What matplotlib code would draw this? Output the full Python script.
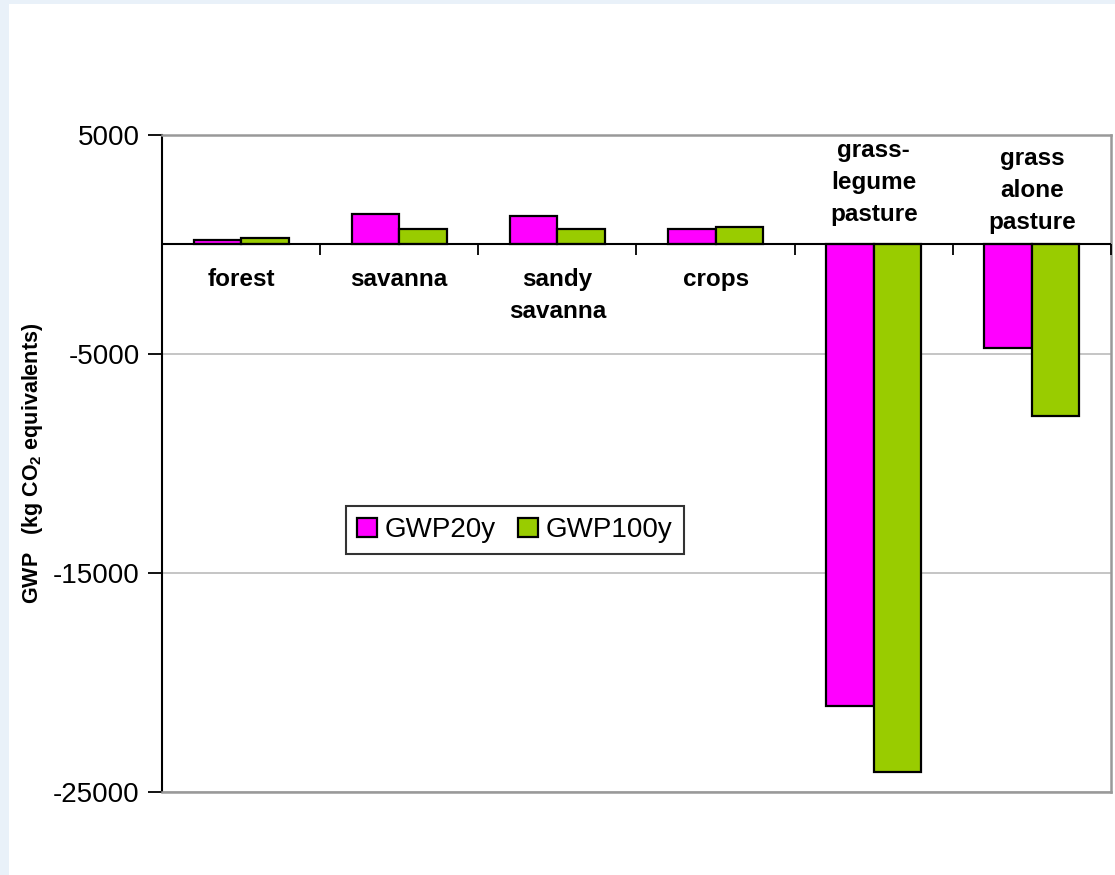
import matplotlib
matplotlib.use("Agg")
import matplotlib.pyplot as plt
from matplotlib.patches import Rectangle
import matplotlib.transforms as mtransforms
import numpy as np

# Data
categories = ["forest", "savanna", "sandy\nsavanna", "crops",
              "grass-\nlegume\npasture", "grass\nalone\npasture"]
gwp20 = [200, 1400, 1300, 700, -21100, -4750]
gwp100 = [300, 700, 700, 800, -24100, -7850]
series_names = ["GWP20y", "GWP100y"]
yticks = [5000, -5000, -15000, -25000]

plt.rcParams["font.family"] = ["Liberation Sans", "DejaVu Sans"]
plt.rcParams["mathtext.fontset"] = "custom"
plt.rcParams["mathtext.rm"] = "Liberation Sans"
plt.rcParams["mathtext.bf"] = "Liberation Sans:bold"

W, H = 1115, 875
fig = plt.figure(figsize=(W / 100, H / 100), dpi=100)
fig.patch.set_facecolor("white")

# light blue frame strips along the top and left edges
fig.patches.append(Rectangle((0, 0), 9 / W, 1, transform=fig.transFigure,
                             facecolor="#e9f1f9", edgecolor="none", zorder=0))
fig.patches.append(Rectangle((0, 1 - 4 / H), 1, 4 / H, transform=fig.transFigure,
                             facecolor="#e9f1f9", edgecolor="none", zorder=0))

left, right = 162 / W, 1111 / W
top, bottom = 1 - 135 / H, 1 - 791.7 / H
ax = fig.add_axes([left, bottom, right - left, top - bottom])

x = np.arange(len(categories))
bw = 0.3
ax.bar(x - bw / 2, gwp20, width=bw, color="#ff00ff", edgecolor="black",
       linewidth=1.6, label=series_names[0], zorder=3)
ax.bar(x + bw / 2, gwp100, width=bw, color="#99cc00", edgecolor="black",
       linewidth=1.6, label=series_names[1], zorder=3)

ax.set_xlim(-0.5, len(categories) - 0.5)
ax.set_ylim(-25000, 5000)
ax.set_yticks(yticks)
ax.set_yticklabels([str(v) for v in yticks], fontsize=20)
ax.tick_params(axis="y", direction="out", length=10, width=1.3, pad=6)
ax.set_xticks([])

ax.grid(axis="y", color="#c0c0c0", linewidth=1.3, zorder=0)
for s in ["top", "right", "bottom"]:
    ax.spines[s].set_color("#999999")
    ax.spines[s].set_linewidth(1.8)
ax.spines["left"].set_color("black")
ax.spines["left"].set_linewidth(1.5)

# zero axis line with category separators
ax.axhline(0, color="black", linewidth=1.5, zorder=4)
bounds = np.arange(0.5, len(categories), 1.0)
ax.plot(bounds, np.zeros_like(bounds), linestyle="none", marker=3,
        markersize=8, markeredgewidth=1.3, color="black", zorder=4,
        clip_on=False)

# category labels next to the zero line
line_gap = 32
for i, (lab, a, b) in enumerate(zip(categories, gwp20, gwp100)):
    lines = lab.split("\n")
    if min(a, b) >= 0:
        offs = [-35 - k * line_gap for k in range(len(lines))]
    else:
        base = 30 if i == 4 else 22
        n = len(lines)
        offs = [base + (n - 1 - k) * line_gap for k in range(n)]
    for txt, off in zip(lines, offs):
        tr = mtransforms.offset_copy(ax.transData, fig=fig, x=0, y=off,
                                     units="dots")
        ax.text(i, 0, txt, transform=tr, ha="center", va="center",
                fontsize=17.5, fontweight="bold", zorder=5)

ax.set_ylabel("GWP   (kg CO$_\\mathbf{2}$ equivalents)", fontsize=15.5,
              fontweight="bold", labelpad=2)
ax.yaxis.set_label_coords(-0.123, 0.5)

leg = ax.legend(loc="center", bbox_to_anchor=(0.372, 0.398), ncol=2,
                fontsize=20, frameon=True, fancybox=False, edgecolor="black",
                handlelength=0.7, handleheight=0.7, handletextpad=0.3,
                columnspacing=0.8, borderpad=0.4, borderaxespad=0)
leg.get_frame().set_linewidth(1.5)

fig.savefig("out.png", dpi=100, facecolor=fig.get_facecolor())
